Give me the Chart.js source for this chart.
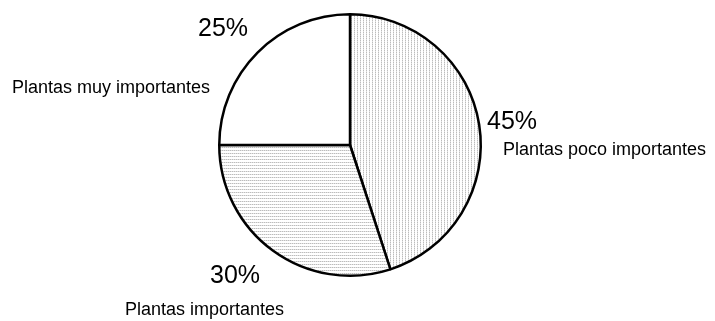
<!DOCTYPE html>
<html>
<head>
<meta charset="utf-8">
<script src="https://cdn.jsdelivr.net/npm/chart.js@4/dist/chart.umd.min.js"></script>
<style>
  html, body { margin: 0; padding: 0; background: #fff; }
  #wrap { width: 715px; height: 321px; }
</style>
</head>
<body>
<div id="wrap"><canvas id="pieChart" width="715" height="321"></canvas></div>
<script>
const categories = ["Plantas poco importantes", "Plantas importantes", "Plantas muy importantes"];
const shares = [45, 30, 25];

// little tiles of fine gray lines, like a printed hatch
function lineTile(vertical) {
  const c = document.createElement("canvas");
  c.width = vertical ? 3 : 2;
  c.height = vertical ? 2 : 3;
  const g = c.getContext("2d");
  g.fillStyle = "#fff";
  g.fillRect(0, 0, c.width, c.height);
  g.fillStyle = "#bcbcbc";
  g.fillRect(0, 0, 1, 1);
  g.fillStyle = "#e2e2e2";
  if (vertical) g.fillRect(0, 1, 1, 1); else g.fillRect(1, 0, 1, 1);
  return g.createPattern(c, "repeat");
}

// where each name and percentage sits (left x, baseline y)
const textSpots = [
  { pct: [487, 129], name: [503, 155] },
  { pct: [210, 283], name: [125, 315] },
  { pct: [198, 36], name: [12, 93] }
];

const sliceText = {
  id: "sliceText",
  afterDraw(chart) {
    const ctx = chart.ctx;
    ctx.save();
    ctx.fillStyle = "#000";
    ctx.textBaseline = "alphabetic";
    ctx.textAlign = "left";
    shares.forEach((v, i) => {
      const s = textSpots[i];
      ctx.font = "25px Arial, 'Liberation Sans', sans-serif";
      ctx.fillText(v + "%", s.pct[0], s.pct[1]);
      ctx.font = "18px Arial, 'Liberation Sans', sans-serif";
      ctx.fillText(categories[i], s.name[0], s.name[1]);
    });
    ctx.restore();
  }
};

const ctx = document.getElementById("pieChart").getContext("2d");
new Chart(ctx, {
  type: "pie",
  data: {
    labels: categories,
    datasets: [{
      data: shares,
      backgroundColor: [lineTile(true), lineTile(false), "#ffffff"],
      borderColor: "#000",
      borderWidth: 2.5
    }]
  },
  options: {
    responsive: false,
    animation: false,
    layout: { padding: { left: 218, right: 233, top: 13, bottom: 44 } },
    plugins: {
      legend: { display: false },
      tooltip: { enabled: false }
    }
  },
  plugins: [sliceText]
});
</script>
</body>
</html>
